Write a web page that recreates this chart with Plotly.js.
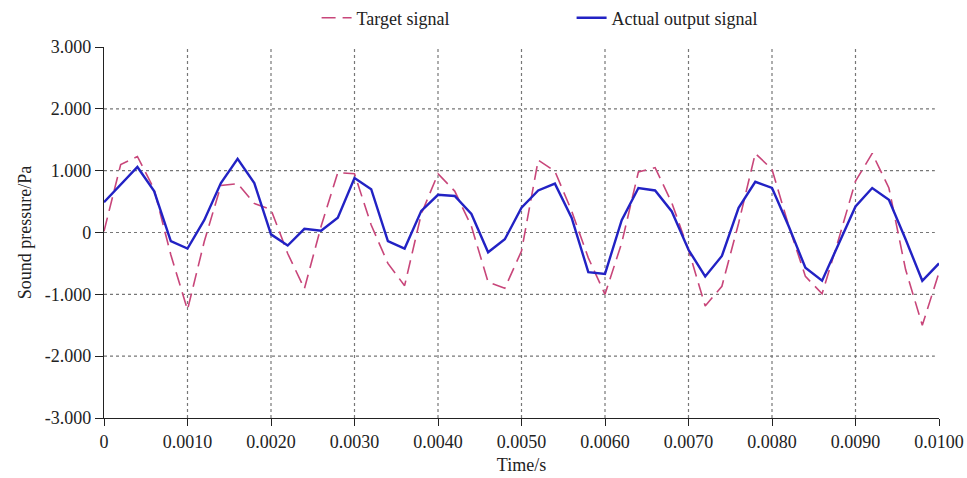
<!DOCTYPE html>
<html>
<head>
<meta charset="utf-8">
<script src="https://cdn.plot.ly/plotly-3.0.1.min.js"></script>
<style>html,body{margin:0;padding:0;background:#fff;}#chart{width:967px;height:478px;}</style>
</head>
<body>
<div id="chart"></div>
<script>
var timeS = [0,0.0002,0.0004,0.0006,0.0008,0.0010,0.0012,0.0014,0.0016,0.0018,
  0.0020,0.0022,0.0024,0.0026,0.0028,0.0030,0.0032,0.0034,0.0036,0.0038,
  0.0040,0.0042,0.0044,0.0046,0.0048,0.0050,0.0052,0.0054,0.0056,0.0058,
  0.0060,0.0062,0.0064,0.0066,0.0068,0.0070,0.0072,0.0074,0.0076,0.0078,
  0.0080,0.0082,0.0084,0.0086,0.0088,0.0090,0.0092,0.0094,0.0096,0.0098,0.0100];

var targetSignal = [0.02,1.10,1.23,0.70,-0.36,-1.25,-0.15,0.76,0.79,0.47,
  0.37,-0.34,-0.91,0.10,0.97,0.95,0.12,-0.50,-0.86,0.30,
  0.95,0.67,0.10,-0.80,-0.90,-0.30,1.17,0.99,0.35,-0.41,
  -1.00,-0.17,0.98,1.05,0.48,-0.28,-1.19,-0.87,0.15,1.28,
  1.02,0.11,-0.71,-0.99,-0.10,0.83,1.28,0.72,-0.60,-1.50,-0.65];

var actualOutput = [0.49,0.77,1.06,0.67,-0.14,-0.26,0.20,0.80,1.19,0.80,
  -0.03,-0.21,0.06,0.03,0.24,0.88,0.70,-0.14,-0.26,0.35,
  0.61,0.59,0.30,-0.32,-0.11,0.40,0.68,0.79,0.24,-0.64,
  -0.67,0.20,0.72,0.68,0.34,-0.28,-0.71,-0.38,0.40,0.82,
  0.72,0.10,-0.57,-0.78,-0.17,0.42,0.72,0.53,-0.11,-0.78,-0.50];

var xTickVals = [0,0.001,0.002,0.003,0.004,0.005,0.006,0.007,0.008,0.009,0.010];
var xTickText = ["0","0.0010","0.0020","0.0030","0.0040","0.0050","0.0060","0.0070","0.0080","0.0090","0.0100"];
var yTickVals = [-3,-2,-1,0,1,2,3];
var yTickText = ["-3.000","-2.000","-1.000","0","1.000","2.000","3.000"];

var seriesNames = ["Target signal","Actual output signal"];

var traces = [
  {x: timeS, y: targetSignal, type: 'scatter', mode: 'lines', name: seriesNames[0],
   line: {color: '#c8467a', width: 1.6, dash: '14px,7px'}},
  {x: timeS, y: actualOutput, type: 'scatter', mode: 'lines', name: seriesNames[1],
   line: {color: '#2222c4', width: 2.4}}
];

var shapes = [];
xTickVals.slice(1, -1).forEach(function (v) {
  shapes.push({type: 'line', xref: 'x', yref: 'y', x0: v, x1: v, y0: -3, y1: 3,
    line: {color: '#777', width: 1.2, dash: 'dot'}, layer: 'below'});
});
yTickVals.slice(1, -1).forEach(function (v) {
  shapes.push({type: 'line', xref: 'x', yref: 'y', x0: 0, x1: 0.00995, y0: v, y1: v,
    line: {color: '#777', width: 1.2, dash: 'dot'}, layer: 'below'});
});

var fam = 'Liberation Serif, Times New Roman, serif';
var tickFont = {family: fam, size: 18, color: '#222'};

var layout = {
  width: 967, height: 478,
  margin: {l: 104, r: 28, t: 47, b: 60, autoexpand: false},
  paper_bgcolor: '#fff', plot_bgcolor: '#fff',
  font: tickFont,
  showlegend: true,
  legend: {orientation: 'h', x: 0.2546, xanchor: 'left', y: 1.078, yanchor: 'middle',
    font: {family: fam, size: 18, color: '#222'}, entrywidth: 210, entrywidthmode: 'pixels',
    bgcolor: 'rgba(0,0,0,0)'},
  xaxis: {range: [0, 0.01], tickvals: xTickVals, ticktext: xTickText,
    showgrid: false, zeroline: false, showline: true, linecolor: '#222', linewidth: 1.2,
    ticks: 'outside', ticklen: 7, tickcolor: '#222', tickfont: tickFont,
    title: {text: 'Time/s', font: {family: fam, size: 18, color: '#222'}, standoff: 7}},
  yaxis: {range: [-3, 3], tickvals: yTickVals, ticktext: yTickText,
    showgrid: false, zeroline: false, showline: true, linecolor: '#222', linewidth: 1.2,
    ticks: 'outside', ticklen: 8, tickcolor: '#222', tickfont: tickFont,
    title: {text: 'Sound pressure/Pa', font: {family: fam, size: 18, color: '#222'}, standoff: 8}},
  shapes: shapes
};

Plotly.newPlot('chart', traces, layout, {displayModeBar: false, staticPlot: true});
</script>
</body>
</html>
